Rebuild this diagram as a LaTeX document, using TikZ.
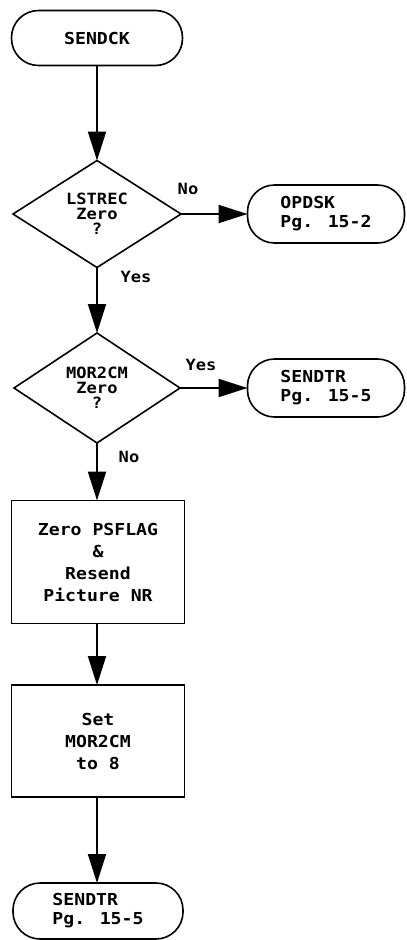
\documentclass[tikz,border=0pt]{standalone}
\usepackage{fontspec}
\setmainfont[FakeStretch=1.1]{DejaVu Sans Mono Bold}
\usetikzlibrary{shapes.geometric,arrows.meta}
\begin{document}
\begin{tikzpicture}[x=1pt,y=-1pt,
  every node/.style={outer sep=0pt,inner sep=0pt},
  term/.style={draw,line width=1.6pt,rectangle,rounded corners=27pt,font=\fontsize{16.5}{19}\selectfont,align=left},
  dec/.style={draw,line width=1.6pt,diamond,font=\fontsize{15.5}{15}\selectfont,align=center},
  proc/.style={draw,line width=1.6pt,rectangle,font=\fontsize{16.5}{22}\selectfont,align=center},
  lbl/.style={font=\fontsize{15.5}{16}\selectfont},
  flow/.style={line width=2pt,-{Triangle[length=29pt,width=18pt]}}]
\useasboundingbox (0,0) rectangle (407,940);
\node[term,minimum width=171pt,minimum height=55pt] (sendck) at (97,38) {SENDCK};
\node[dec,minimum width=168pt,minimum height=107pt] (lstrec) at (97,214) {LSTREC\\Zero\\?};
\node[term,minimum width=157pt,minimum height=58pt] (opdsk) at (326,214) {OPDSK\\Pg. 15-2};
\node[dec,minimum width=166pt,minimum height=110pt] (mor2cm) at (97,388) {MOR2CM\\Zero\\?};
\node[term,minimum width=157pt,minimum height=58pt] (sendtra) at (326,388) {SENDTR\\Pg. 15-5};
\node[proc,minimum width=173pt,minimum height=123pt] (zero) at (98,562) {Zero PSFLAG\\\&\\Resend\\Picture NR};
\node[proc,minimum width=173pt,minimum height=112pt] (setm) at (98,741) {Set\\MOR2CM\\to 8};
\node[term,minimum width=170pt,minimum height=56pt] (sendtrb) at (98,911) {SENDTR\\Pg. 15-5};
\draw[flow] (sendck.south -| lstrec.north) -- (lstrec.north);
\draw[flow] (lstrec.east) -- (opdsk.west);
\draw[flow] (lstrec.south) -- (mor2cm.north);
\draw[flow] (mor2cm.east) -- (sendtra.west);
\draw[flow] (mor2cm.south) -- (mor2cm.south |- zero.north);
\draw[flow] (zero.south -| mor2cm.south) -- (setm.north -| mor2cm.south);
\draw[flow] (setm.south -| mor2cm.south) -- (sendtrb.north -| mor2cm.south);
\node[lbl] (lno) at (188,189) {No};
\node[lbl] (lyes) at (136,277) {Yes};
\node[lbl] (myes) at (201,365) {Yes};
\node[lbl] (mno) at (129,457) {No};
\end{tikzpicture}
\end{document}
